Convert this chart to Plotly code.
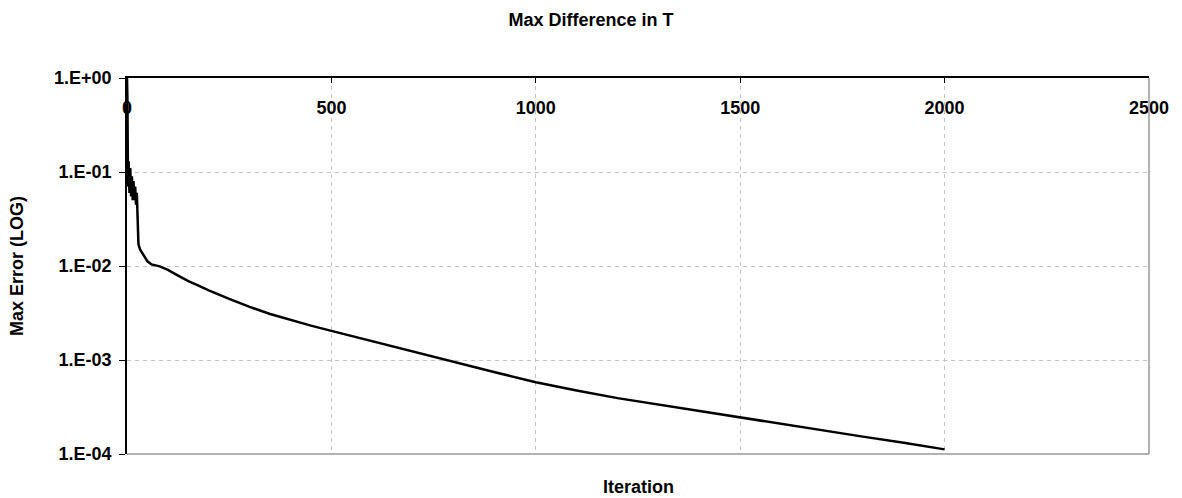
import plotly.graph_objects as go

# ---- data ----
iterations = [0, 1, 2, 3, 4, 6, 8, 10, 12, 14, 16, 18, 20, 22, 24, 25, 26, 28, 32, 40,
              50, 60, 70, 80, 90, 100, 125, 150, 175, 200, 250, 300, 350, 400, 450, 500,
              600, 700, 800, 900, 1000, 1100, 1200, 1300, 1400, 1500,
              1600, 1700, 1800, 1900, 2000]
max_error = [1.0, 0.6, 0.14, 0.07, 0.13, 0.06, 0.11, 0.055, 0.09, 0.05, 0.08, 0.05, 0.07,
             0.045, 0.06, 0.043, 0.02, 0.017, 0.015, 0.013,
             0.0112, 0.0104, 0.0102, 0.0099, 0.0095, 0.0091, 0.0079, 0.0069, 0.0062, 0.0055,
             0.00447, 0.00367, 0.00309, 0.00266, 0.00232, 0.00204,
             0.00158, 0.00123, 0.000955, 0.000741, 0.000581, 0.000473, 0.000393, 0.000335,
             0.000286, 0.000245, 0.000209, 0.000180, 0.000153, 0.000132, 0.000112]

x_ticks = [0, 500, 1000, 1500, 2000, 2500]
y_ticks = [1, 0.1, 0.01, 0.001, 0.0001]
y_tick_labels = ["1.E+00", "1.E-01", "1.E-02", "1.E-03", "1.E-04"]

title_text = "Max Difference in T"
x_title = "Iteration"
y_title = "Max Error (LOG)"

FONT = "Liberation Sans, Arial, sans-serif"

fig = go.Figure()
fig.add_trace(go.Scatter(
    x=iterations, y=max_error, mode="lines",
    line=dict(color="black", width=2.5, shape="linear"),
    showlegend=False, hoverinfo="skip",
))

W, H = 1182, 498
L, R, T, B = 127, 33, 78, 44
plot_h = H - B - T

fig.update_layout(
    width=W, height=H,
    margin=dict(l=L, r=R, t=T, b=B, pad=0),
    paper_bgcolor="white", plot_bgcolor="white",
    font=dict(family=FONT, size=18, color="black", weight="bold"),
    title=dict(text=title_text, x=0.5, xanchor="center", xref="container",
               y=1 - 20 / H, yanchor="middle", yref="container",
               font=dict(family=FONT, size=18, weight="bold", color="black")),
    xaxis=dict(
        range=[0, 2500], tickvals=x_ticks, side="top",
        ticks="inside", ticklen=5, tickcolor="black",
        ticklabelposition="inside", ticklabelstandoff=19,
        ticklabeloverflow="allow",
        showline=True, linecolor="black", linewidth=1.5,
        showgrid=True, gridcolor="#c4c4c4", griddash="4px,4px", gridwidth=1,
        zeroline=False,
        tickfont=dict(family=FONT, size=18, weight="bold", color="black"),
    ),
    yaxis=dict(
        type="log", range=[-4, 0.0001], tickvals=y_ticks, ticktext=y_tick_labels,
        ticks="outside", ticklen=6, tickcolor="black",
        ticklabelstandoff=4, ticklabeloverflow="allow",
        showline=True, linecolor="black", linewidth=1.5,
        showgrid=True, gridcolor="#c4c4c4", griddash="4px,4px", gridwidth=1,
        zeroline=False,
        tickfont=dict(family=FONT, size=18, weight="bold", color="black"),
        title=dict(text=y_title, standoff=26,
                   font=dict(family=FONT, size=18, weight="bold", color="black")),
    ),
    shapes=[
        dict(type="line", xref="paper", yref="paper", x0=0, x1=1, y0=0, y1=0,
             line=dict(color="#999999", width=1.5)),
        dict(type="line", xref="paper", yref="paper", x0=1, x1=1, y0=0, y1=1,
             line=dict(color="#999999", width=1.5)),
    ],
    annotations=[
        dict(text=x_title, xref="paper", yref="paper", x=0.5,
             y=-((487 - (H - B)) / plot_h),
             xanchor="center", yanchor="middle", showarrow=False,
             font=dict(family=FONT, size=18, weight="bold", color="black")),
    ],
)

fig.write_html("out.html")
